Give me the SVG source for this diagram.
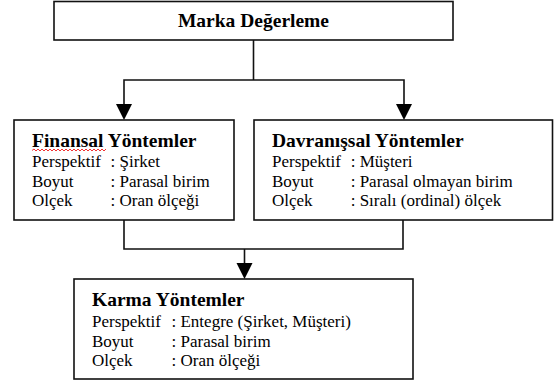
<svg xmlns="http://www.w3.org/2000/svg" width="554" height="383" viewBox="0 0 554 383">
<rect width="554" height="383" fill="#fff"/>
<g id="connectors" fill="none" stroke="#111" stroke-width="1.6">
<polyline points="253.5,40 253.5,80"/>
<polyline points="124,104 124,80 404,80 404,104"/>
<polyline points="124,220 124,249 403,249 403,220"/>
<polyline points="244.5,249 244.5,263"/>
<path d="M116,104 L132,104 L124,120 Z" fill="#000" stroke="none"/>
<path d="M396,104 L412,104 L404,120 Z" fill="#000" stroke="none"/>
<path d="M236.5,263 L252.5,263 L244.5,279 Z" fill="#000" stroke="none"/>
</g>
<g id="marka" fill="#000">
<rect x="54" y="1.5" width="399" height="38.5" fill="#fff" stroke="#111" stroke-width="1.6"/>
<text x="253.5" y="27" text-anchor="middle" font-family="Times New Roman, Liberation Serif, serif" font-size="19.5" font-weight="bold">Marka Değerleme</text>
</g>
<g id="finansal" fill="#000">
<rect x="14" y="120" width="220" height="100" fill="#fff" stroke="#111" stroke-width="1.6"/>
<text x="32" y="147" font-family="Times New Roman, Liberation Serif, serif" font-size="19.5" font-weight="bold">Finansal Yöntemler</text>
<polyline points="32,150.5 34,149 36,151 38,149 40,151 42,149 44,151 46,149 48,151 50,149 52,151 54,149 56,151 58,149 60,151 62,149 64,151 66,149 68,151 70,149 72,151 74,149 76,151 78,149 80,151 82,149 84,151 86,149 88,151 90,149 92,151 94,149 96,151 98,149 100,151 102,149 104,151 106,149" fill="none" stroke="#e00" stroke-width="0.8"/>
<text x="32" y="167" font-family="Times New Roman, Liberation Serif, serif" font-size="17">Perspektif</text>
<text x="110.5" y="167" font-family="Times New Roman, Liberation Serif, serif" font-size="17">: Şirket</text>
<text x="32" y="186.5" font-family="Times New Roman, Liberation Serif, serif" font-size="17">Boyut</text>
<text x="110.5" y="186.5" font-family="Times New Roman, Liberation Serif, serif" font-size="17">: Parasal birim</text>
<text x="32" y="206" font-family="Times New Roman, Liberation Serif, serif" font-size="17">Olçek</text>
<text x="110.5" y="206" font-family="Times New Roman, Liberation Serif, serif" font-size="17">: Oran ölçeği</text>
</g>
<g id="davranissal" fill="#000">
<rect x="254" y="120" width="298.5" height="100" fill="#fff" stroke="#111" stroke-width="1.6"/>
<text x="272" y="147" font-family="Times New Roman, Liberation Serif, serif" font-size="19.5" font-weight="bold">Davranışsal Yöntemler</text>
<text x="272" y="167" font-family="Times New Roman, Liberation Serif, serif" font-size="17">Perspektif</text>
<text x="350.7" y="167" font-family="Times New Roman, Liberation Serif, serif" font-size="17">: Müşteri</text>
<text x="272" y="186.5" font-family="Times New Roman, Liberation Serif, serif" font-size="17">Boyut</text>
<text x="350.7" y="186.5" font-family="Times New Roman, Liberation Serif, serif" font-size="17">: Parasal olmayan birim</text>
<text x="272" y="206" font-family="Times New Roman, Liberation Serif, serif" font-size="17">Olçek</text>
<text x="350.7" y="206" font-family="Times New Roman, Liberation Serif, serif" font-size="17">: Sıralı (ordinal) ölçek</text>
</g>
<g id="karma" fill="#000">
<rect x="74" y="279" width="339" height="100" fill="#fff" stroke="#111" stroke-width="1.6"/>
<text x="92" y="306" font-family="Times New Roman, Liberation Serif, serif" font-size="19.5" font-weight="bold">Karma Yöntemler</text>
<text x="92" y="327" font-family="Times New Roman, Liberation Serif, serif" font-size="17">Perspektif</text>
<text x="171.5" y="327" font-family="Times New Roman, Liberation Serif, serif" font-size="17">: Entegre (Şirket, Müşteri)</text>
<text x="92" y="346.5" font-family="Times New Roman, Liberation Serif, serif" font-size="17">Boyut</text>
<text x="171.5" y="346.5" font-family="Times New Roman, Liberation Serif, serif" font-size="17">: Parasal birim</text>
<text x="92" y="366" font-family="Times New Roman, Liberation Serif, serif" font-size="17">Olçek</text>
<text x="171.5" y="366" font-family="Times New Roman, Liberation Serif, serif" font-size="17">: Oran ölçeği</text>
</g>
</svg>
